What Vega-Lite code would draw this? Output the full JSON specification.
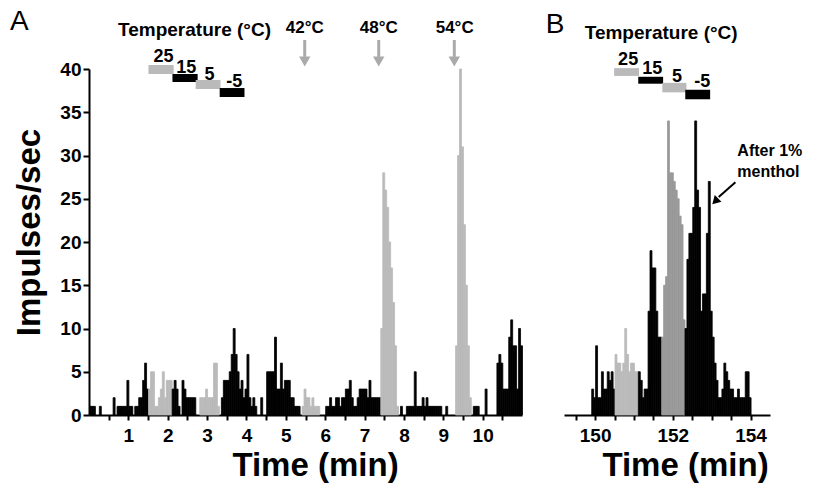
{
  "$schema": "https://vega.github.io/schema/vega-lite/v6.json",
  "padding": {"left": 9, "top": 8, "right": 5, "bottom": 5},
  "background": "white",
  "config": {
    "view": {"stroke": null},
    "font": "Liberation Sans",
    "axis": {"domainColor": "#000", "domainWidth": 2, "tickColor": "#000", "tickWidth": 2, "labelColor": "#000", "labelFont": "Liberation Sans", "labelFontSize": 19, "labelFontWeight": "bold", "titleFont": "Liberation Sans", "titleFontSize": 33, "titleFontWeight": "bold", "titleColor": "#000", "grid": false, "labelOverlap": false, "labelFlush": false}
  },
  "spacing": 42,
  "bounds": "flush",
  "resolve": {"scale": {"x": "independent", "y": "independent", "color": "independent", "stroke": "independent"}},
  "datasets": {
    "histA": [
      {"t":0.00,"v":1,"c":"k"},{"t":0.05,"v":1,"c":"k"},{"t":0.10,"v":1,"c":"k"},{"t":0.25,"v":1,"c":"k"},{"t":0.60,"v":2,"c":"k"},
      {"t":0.70,"v":1,"c":"k"},{"t":0.75,"v":1,"c":"k"},{"t":0.80,"v":1,"c":"k"},{"t":0.85,"v":1,"c":"k"},{"t":0.90,"v":1,"c":"k"},
      {"t":0.95,"v":4,"c":"k"},{"t":1.00,"v":1,"c":"k"},{"t":1.05,"v":1,"c":"k"},{"t":1.15,"v":1,"c":"k"},{"t":1.20,"v":1,"c":"k"},
      {"t":1.25,"v":2,"c":"k"},{"t":1.30,"v":2,"c":"k"},{"t":1.35,"v":4,"c":"k"},{"t":1.40,"v":6,"c":"k"},{"t":1.45,"v":3,"c":"k"},
      {"t":1.50,"v":3,"c":"g"},{"t":1.55,"v":5,"c":"g"},{"t":1.60,"v":5,"c":"g"},{"t":1.65,"v":1,"c":"g"},{"t":1.70,"v":1,"c":"g"},
      {"t":1.75,"v":2,"c":"g"},{"t":1.80,"v":3,"c":"g"},{"t":1.85,"v":5,"c":"g"},{"t":1.90,"v":2,"c":"g"},{"t":1.95,"v":4,"c":"g"},
      {"t":2.00,"v":4,"c":"g"},{"t":2.05,"v":4,"c":"g"},
      {"t":2.10,"v":3,"c":"k"},{"t":2.15,"v":4,"c":"k"},{"t":2.20,"v":3,"c":"k"},{"t":2.25,"v":1,"c":"k"},{"t":2.35,"v":4,"c":"k"},
      {"t":2.40,"v":3,"c":"k"},{"t":2.45,"v":2,"c":"k"},{"t":2.50,"v":2,"c":"k"},{"t":2.55,"v":2,"c":"k"},{"t":2.60,"v":2,"c":"k"},{"t":2.65,"v":2,"c":"k"},
      {"t":2.80,"v":2,"c":"g"},{"t":2.85,"v":2,"c":"g"},{"t":2.90,"v":2,"c":"g"},{"t":2.95,"v":3,"c":"g"},{"t":3.00,"v":2,"c":"g"},
      {"t":3.05,"v":2,"c":"g"},{"t":3.10,"v":2,"c":"g"},{"t":3.15,"v":6,"c":"g"},{"t":3.20,"v":6,"c":"g"},{"t":3.25,"v":1,"c":"g"},
      {"t":3.35,"v":2,"c":"k"},{"t":3.40,"v":4,"c":"k"},{"t":3.45,"v":4,"c":"k"},{"t":3.50,"v":4,"c":"k"},{"t":3.55,"v":5,"c":"k"},
      {"t":3.60,"v":7,"c":"k"},{"t":3.65,"v":10,"c":"k"},{"t":3.70,"v":7,"c":"k"},{"t":3.75,"v":5,"c":"k"},{"t":3.80,"v":3,"c":"k"},
      {"t":3.85,"v":4,"c":"k"},{"t":3.90,"v":2,"c":"k"},{"t":3.95,"v":3,"c":"k"},{"t":4.00,"v":7,"c":"k"},{"t":4.05,"v":2,"c":"k"},
      {"t":4.10,"v":1,"c":"k"},{"t":4.15,"v":2,"c":"k"},{"t":4.20,"v":1,"c":"k"},{"t":4.35,"v":2,"c":"k"},{"t":4.50,"v":5,"c":"k"},
      {"t":4.55,"v":5,"c":"k"},{"t":4.60,"v":5,"c":"k"},{"t":4.65,"v":5,"c":"k"},{"t":4.70,"v":9,"c":"k"},{"t":4.75,"v":3,"c":"k"},
      {"t":4.80,"v":3,"c":"k"},{"t":4.85,"v":6,"c":"k"},{"t":4.90,"v":3,"c":"k"},{"t":4.95,"v":4,"c":"k"},{"t":5.00,"v":4,"c":"k"},
      {"t":5.05,"v":4,"c":"k"},{"t":5.10,"v":2,"c":"k"},{"t":5.15,"v":2,"c":"k"},{"t":5.20,"v":1,"c":"k"},{"t":5.25,"v":1,"c":"k"},{"t":5.30,"v":1,"c":"k"},
      {"t":5.40,"v":1,"c":"g"},{"t":5.45,"v":3,"c":"g"},{"t":5.50,"v":2,"c":"g"},{"t":5.55,"v":2,"c":"g"},{"t":5.60,"v":1,"c":"g"},
      {"t":5.65,"v":2,"c":"g"},{"t":5.70,"v":1,"c":"g"},{"t":5.75,"v":1,"c":"g"},{"t":5.80,"v":1,"c":"g"},
      {"t":6.00,"v":1,"c":"k"},{"t":6.05,"v":1,"c":"k"},{"t":6.10,"v":2,"c":"k"},{"t":6.15,"v":1,"c":"k"},{"t":6.20,"v":1,"c":"k"},
      {"t":6.25,"v":2,"c":"k"},{"t":6.30,"v":2,"c":"k"},{"t":6.35,"v":1,"c":"k"},{"t":6.40,"v":2,"c":"k"},{"t":6.45,"v":2,"c":"k"},
      {"t":6.50,"v":3,"c":"k"},{"t":6.55,"v":3,"c":"k"},{"t":6.60,"v":4,"c":"k"},{"t":6.65,"v":2,"c":"k"},{"t":6.70,"v":1,"c":"k"},
      {"t":6.75,"v":1,"c":"k"},{"t":6.80,"v":2,"c":"k"},{"t":6.85,"v":3,"c":"k"},{"t":6.90,"v":3,"c":"k"},{"t":6.95,"v":3,"c":"k"},
      {"t":7.00,"v":3,"c":"k"},{"t":7.05,"v":2,"c":"k"},{"t":7.10,"v":4,"c":"k"},{"t":7.15,"v":2,"c":"k"},{"t":7.20,"v":2,"c":"k"},
      {"t":7.25,"v":2,"c":"k"},{"t":7.30,"v":2,"c":"k"},{"t":7.35,"v":2,"c":"k"},
      {"t":7.40,"v":10,"c":"g"},{"t":7.45,"v":28,"c":"g"},{"t":7.50,"v":26,"c":"g"},{"t":7.55,"v":24,"c":"g"},{"t":7.60,"v":20,"c":"g"},
      {"t":7.65,"v":17,"c":"g"},{"t":7.70,"v":13,"c":"g"},{"t":7.75,"v":8,"c":"g"},{"t":7.80,"v":1,"c":"g"},
      {"t":7.90,"v":1,"c":"k"},{"t":8.05,"v":1,"c":"k"},{"t":8.10,"v":1,"c":"k"},{"t":8.15,"v":1,"c":"k"},{"t":8.20,"v":1,"c":"k"},
      {"t":8.25,"v":5,"c":"k"},{"t":8.30,"v":1,"c":"k"},{"t":8.35,"v":1,"c":"k"},{"t":8.40,"v":1,"c":"k"},{"t":8.45,"v":2,"c":"k"},
      {"t":8.50,"v":1,"c":"k"},{"t":8.55,"v":2,"c":"k"},{"t":8.60,"v":1,"c":"k"},{"t":8.65,"v":1,"c":"k"},{"t":8.70,"v":1,"c":"k"},
      {"t":8.75,"v":1,"c":"k"},{"t":8.80,"v":1,"c":"k"},{"t":8.85,"v":1,"c":"k"},{"t":8.90,"v":1,"c":"k"},{"t":9.05,"v":1,"c":"k"},
      {"t":9.30,"v":8,"c":"g"},{"t":9.35,"v":30,"c":"g"},{"t":9.40,"v":40,"c":"g"},{"t":9.45,"v":31,"c":"g"},{"t":9.50,"v":22,"c":"g"},
      {"t":9.55,"v":15,"c":"g"},{"t":9.60,"v":8,"c":"g"},{"t":9.65,"v":2,"c":"g"},
      {"t":9.75,"v":1,"c":"k"},{"t":9.80,"v":1,"c":"k"},{"t":9.85,"v":1,"c":"k"},{"t":10.05,"v":3,"c":"k"},{"t":10.35,"v":6,"c":"k"},
      {"t":10.40,"v":7,"c":"k"},{"t":10.45,"v":6,"c":"k"},{"t":10.50,"v":3,"c":"k"},{"t":10.55,"v":3,"c":"k"},{"t":10.60,"v":3,"c":"k"},
      {"t":10.65,"v":9,"c":"k"},{"t":10.70,"v":11,"c":"k"},{"t":10.75,"v":8,"c":"k"},{"t":10.80,"v":8,"c":"k"},{"t":10.85,"v":3,"c":"k"},
      {"t":10.90,"v":10,"c":"k"},{"t":10.95,"v":8,"c":"k"}
    ],
    "histB": [
      {"t":149.90,"v":3,"c":"k"},{"t":149.95,"v":2,"c":"k"},{"t":150.00,"v":8,"c":"k"},{"t":150.05,"v":2,"c":"k"},{"t":150.10,"v":2,"c":"k"},
      {"t":150.15,"v":5,"c":"k"},{"t":150.20,"v":3,"c":"k"},{"t":150.25,"v":3,"c":"k"},{"t":150.30,"v":5,"c":"k"},{"t":150.35,"v":4,"c":"k"},
      {"t":150.40,"v":5,"c":"k"},{"t":150.45,"v":3,"c":"k"},
      {"t":150.50,"v":7,"c":"g"},{"t":150.55,"v":6,"c":"g"},{"t":150.60,"v":6,"c":"g"},{"t":150.65,"v":5,"c":"g"},{"t":150.70,"v":6,"c":"g"},
      {"t":150.75,"v":10,"c":"g"},{"t":150.80,"v":7,"c":"g"},{"t":150.85,"v":5,"c":"g"},{"t":150.90,"v":6,"c":"g"},{"t":150.95,"v":6,"c":"g"},
      {"t":151.00,"v":5,"c":"g"},{"t":151.05,"v":5,"c":"g"},
      {"t":151.10,"v":5,"c":"k"},{"t":151.15,"v":4,"c":"k"},{"t":151.20,"v":2,"c":"k"},{"t":151.25,"v":3,"c":"k"},{"t":151.30,"v":3,"c":"k"},
      {"t":151.35,"v":12,"c":"k"},{"t":151.40,"v":19,"c":"k"},{"t":151.45,"v":17,"c":"k"},{"t":151.50,"v":17,"c":"k"},{"t":151.55,"v":12,"c":"k"},
      {"t":151.60,"v":9,"c":"k"},{"t":151.65,"v":9,"c":"k"},
      {"t":151.70,"v":9,"c":"m"},{"t":151.75,"v":15,"c":"m"},{"t":151.80,"v":16,"c":"m"},{"t":151.85,"v":34,"c":"m"},{"t":151.90,"v":28,"c":"m"},
      {"t":151.95,"v":28,"c":"m"},{"t":152.00,"v":27,"c":"m"},{"t":152.05,"v":26,"c":"m"},{"t":152.10,"v":25,"c":"m"},{"t":152.15,"v":23,"c":"m"},
      {"t":152.20,"v":22,"c":"m"},{"t":152.25,"v":11,"c":"m"},
      {"t":152.30,"v":10,"c":"k"},{"t":152.35,"v":18,"c":"k"},{"t":152.40,"v":21,"c":"k"},{"t":152.45,"v":21,"c":"k"},{"t":152.50,"v":24,"c":"k"},
      {"t":152.55,"v":34,"c":"k"},{"t":152.60,"v":26,"c":"k"},{"t":152.65,"v":24,"c":"k"},{"t":152.70,"v":12,"c":"k"},{"t":152.75,"v":14,"c":"k"},
      {"t":152.80,"v":14,"c":"k"},{"t":152.85,"v":21,"c":"k"},{"t":152.90,"v":27,"c":"k"},{"t":152.95,"v":12,"c":"k"},{"t":153.00,"v":9,"c":"k"},
      {"t":153.05,"v":6,"c":"k"},{"t":153.10,"v":4,"c":"k"},{"t":153.15,"v":2,"c":"k"},{"t":153.20,"v":2,"c":"k"},{"t":153.25,"v":3,"c":"k"},
      {"t":153.30,"v":6,"c":"k"},{"t":153.35,"v":5,"c":"k"},{"t":153.40,"v":4,"c":"k"},{"t":153.45,"v":3,"c":"k"},{"t":153.50,"v":3,"c":"k"},
      {"t":153.55,"v":2,"c":"k"},{"t":153.60,"v":2,"c":"k"},{"t":153.65,"v":3,"c":"k"},{"t":153.70,"v":2,"c":"k"},{"t":153.75,"v":2,"c":"k"},
      {"t":153.80,"v":2,"c":"k"},{"t":153.85,"v":5,"c":"k"},{"t":153.90,"v":5,"c":"k"},{"t":153.95,"v":2,"c":"k"}
    ]
  },
  "hconcat": [
    {
      "width": 433,
      "height": 346,
      "layer": [
        {
          "data": {"name": "histA"},
          "mark": {"type": "bar", "binSpacing": 0, "strokeWidth": 0.8},
          "encoding": {
            "x": {"field": "t", "type": "quantitative", "bin": {"binned": true, "step": 0.05},
                  "scale": {"domain": [0, 11], "nice": false, "zero": false},
                  "axis": {"title": "Time (min)", "values": [0.5,1,1.5,2,2.5,3,3.5,4,4.5,5,5.5,6,6.5,7,7.5,8,8.5,9,9.5,10,10.5],
                           "labelExpr": "datum.value % 1 === 0 ? format(datum.value, 'd') : ''", "tickSize": 5, "labelPadding": 6,
                           "titleX": 226, "titleY": 60, "titleBaseline": "alphabetic", "titleAlign": "center"}},
            "y": {"field": "v", "type": "quantitative",
                  "scale": {"domain": [0, 40], "nice": false},
                  "axis": {"title": "Impulses/sec", "values": [0,2.5,5,7.5,10,12.5,15,17.5,20,22.5,25,27.5,30,32.5,35,37.5,40],
                           "labelExpr": "datum.value % 5 === 0 ? format(datum.value, 'd') : ''",
                           "tickSize": {"condition": {"test": "datum.value % 5 === 0", "value": 6}, "value": 3},
                           "labelPadding": 2, "titleX": -60, "titleY": 163, "titleAngle": 270, "titleBaseline": "middle", "titleAlign": "center"}},
            "color": {"field": "c", "type": "nominal", "scale": {"domain": ["k", "g", "m"], "range": ["#000000", "#bababa", "#999999"]}, "legend": null},
            "stroke": {"field": "c", "type": "nominal", "scale": {"domain": ["k", "g", "m"], "range": ["#000000", "#bababa", "#999999"]}, "legend": null}
          }
        },
        {
          "data": {"values": [
            {"t1": 1.51, "t2": 2.15, "v1": 39.42, "v2": 40.46, "c": "g"},
            {"t1": 2.12, "t2": 2.76, "v1": 38.50, "v2": 39.42, "c": "k"},
            {"t1": 2.71, "t2": 3.34, "v1": 37.69, "v2": 38.73, "c": "g"},
            {"t1": 3.32, "t2": 3.95, "v1": 36.76, "v2": 37.80, "c": "k"}
          ]},
          "mark": {"type": "rect"},
          "encoding": {
            "x": {"field": "t1", "type": "quantitative"},
            "x2": {"field": "t2"},
            "y": {"field": "v1", "type": "quantitative"},
            "y2": {"field": "v2"},
            "color": {"field": "c", "type": "nominal", "legend": null}
          }
        },
        {
          "data": {"values": [
            {"t": 1.89, "v": 41.4, "txt": "25"},
            {"t": 2.47, "v": 40.1, "txt": "15"},
            {"t": 3.06, "v": 39.3, "txt": "5"},
            {"t": 3.69, "v": 38.5, "txt": "-5"}
          ]},
          "mark": {"type": "text", "font": "Liberation Sans", "fontSize": 18, "fontWeight": "bold", "align": "center", "baseline": "middle", "color": "#000"},
          "encoding": {"x": {"field": "t", "type": "quantitative"}, "y": {"field": "v", "type": "quantitative"}, "text": {"field": "txt"}}
        },
        {
          "data": {"values": [{"t": 2.68, "v": 44.5, "txt": "Temperature (°C)"}]},
          "mark": {"type": "text", "font": "Liberation Sans", "fontSize": 19, "fontWeight": "bold", "align": "center", "baseline": "middle", "color": "#000"},
          "encoding": {"x": {"field": "t", "type": "quantitative"}, "y": {"field": "v", "type": "quantitative"}, "text": {"field": "txt"}}
        },
        {
          "data": {"values": [
            {"t": 5.48, "v": 44.7, "txt": "42°C"},
            {"t": 7.36, "v": 44.7, "txt": "48°C"},
            {"t": 9.29, "v": 44.7, "txt": "54°C"}
          ]},
          "mark": {"type": "text", "font": "Liberation Sans", "fontSize": 17, "fontWeight": "bold", "align": "center", "baseline": "middle", "color": "#000"},
          "encoding": {"x": {"field": "t", "type": "quantitative"}, "y": {"field": "v", "type": "quantitative"}, "text": {"field": "txt"}}
        },
        {
          "data": {"values": [{"t": -1.77, "v": 45.4, "txt": "A"}]},
          "mark": {"type": "text", "font": "Liberation Sans", "fontSize": 28, "align": "center", "baseline": "middle", "color": "#000"},
          "encoding": {"x": {"field": "t", "type": "quantitative"}, "y": {"field": "v", "type": "quantitative"}, "text": {"field": "txt"}}
        },
        {
          "data": {"values": [
            {"t": 5.48, "v1": 41.4, "v2": 43.35},
            {"t": 7.36, "v1": 41.4, "v2": 43.35},
            {"t": 9.28, "v1": 41.4, "v2": 43.35}
          ]},
          "mark": {"type": "rule", "strokeWidth": 3, "color": "#aaaaaa"},
          "encoding": {"x": {"field": "t", "type": "quantitative"}, "y": {"field": "v1", "type": "quantitative"}, "y2": {"field": "v2"}}
        },
        {
          "data": {"values": [
            {"t": 5.48, "v": 40.87},
            {"t": 7.36, "v": 40.87},
            {"t": 9.28, "v": 40.87}
          ]},
          "mark": {"type": "point", "shape": "triangle-down", "filled": true, "size": 130, "color": "#aaaaaa", "opacity": 1},
          "encoding": {"x": {"field": "t", "type": "quantitative"}, "y": {"field": "v", "type": "quantitative"}}
        }
      ]
    },
    {
      "width": 206,
      "height": 346,
      "layer": [
        {
          "data": {"name": "histB"},
          "mark": {"type": "bar", "binSpacing": 0, "strokeWidth": 0.8},
          "encoding": {
            "x": {"field": "t", "type": "quantitative", "bin": {"binned": true, "step": 0.05},
                  "scale": {"domain": [149.2, 154.5], "nice": false, "zero": false},
                  "axis": {"title": "Time (min)", "values": [149.5,150,150.5,151,151.5,152,152.5,153,153.5,154],
                           "labelExpr": "datum.value % 2 === 0 ? format(datum.value, 'd') : ''", "tickSize": 5, "labelPadding": 6,
                           "titleX": 121, "titleY": 60, "titleBaseline": "alphabetic", "titleAlign": "center"}},
            "y": {"field": "v", "type": "quantitative", "scale": {"domain": [0, 40], "nice": false}, "axis": null},
            "color": {"field": "c", "type": "nominal", "scale": {"domain": ["k", "g", "m"], "range": ["#000000", "#bababa", "#999999"]}, "legend": null},
            "stroke": {"field": "c", "type": "nominal", "scale": {"domain": ["k", "g", "m"], "range": ["#000000", "#bababa", "#999999"]}, "legend": null}
          }
        },
        {
          "data": {"values": [
            {"t1": 150.49, "t2": 151.13, "v1": 39.2, "v2": 40.1, "c": "g"},
            {"t1": 151.11, "t2": 151.75, "v1": 38.3, "v2": 39.1, "c": "k"},
            {"t1": 151.73, "t2": 152.35, "v1": 37.3, "v2": 38.4, "c": "g"},
            {"t1": 152.32, "t2": 152.96, "v1": 36.5, "v2": 37.6, "c": "k"}
          ]},
          "mark": {"type": "rect"},
          "encoding": {
            "x": {"field": "t1", "type": "quantitative"},
            "x2": {"field": "t2"},
            "y": {"field": "v1", "type": "quantitative"},
            "y2": {"field": "v2"},
            "color": {"field": "c", "type": "nominal", "legend": null}
          }
        },
        {
          "data": {"values": [
            {"t": 150.85, "v": 41.0, "txt": "25"},
            {"t": 151.47, "v": 40.0, "txt": "15"},
            {"t": 152.11, "v": 39.1, "txt": "5"},
            {"t": 152.76, "v": 38.5, "txt": "-5"}
          ]},
          "mark": {"type": "text", "font": "Liberation Sans", "fontSize": 18, "fontWeight": "bold", "align": "center", "baseline": "middle", "color": "#000"},
          "encoding": {"x": {"field": "t", "type": "quantitative"}, "y": {"field": "v", "type": "quantitative"}, "text": {"field": "txt"}}
        },
        {
          "data": {"values": [{"t": 151.70, "v": 44.2, "txt": "Temperature (°C)"}]},
          "mark": {"type": "text", "font": "Liberation Sans", "fontSize": 19, "fontWeight": "bold", "align": "center", "baseline": "middle", "color": "#000"},
          "encoding": {"x": {"field": "t", "type": "quantitative"}, "y": {"field": "v", "type": "quantitative"}, "text": {"field": "txt"}}
        },
        {
          "data": {"values": [{"t": 148.97, "v": 45.1, "txt": "B"}]},
          "mark": {"type": "text", "font": "Liberation Sans", "fontSize": 28, "align": "center", "baseline": "middle", "color": "#000"},
          "encoding": {"x": {"field": "t", "type": "quantitative"}, "y": {"field": "v", "type": "quantitative"}, "text": {"field": "txt"}}
        },
        {
          "data": {"values": [
            {"t": 153.66, "v": 30.5, "txt": "After 1%"},
            {"t": 153.66, "v": 28.1, "txt": "menthol"}
          ]},
          "mark": {"type": "text", "font": "Liberation Sans", "fontSize": 16, "fontWeight": "bold", "align": "left", "baseline": "middle", "color": "#000"},
          "encoding": {"x": {"field": "t", "type": "quantitative"}, "y": {"field": "v", "type": "quantitative"}, "text": {"field": "txt"}}
        },
        {
          "data": {"values": [{"t1": 153.61, "v1": 26.9, "t2": 153.18, "v2": 25.2}]},
          "mark": {"type": "rule", "strokeWidth": 2, "color": "#000"},
          "encoding": {"x": {"field": "t1", "type": "quantitative"}, "y": {"field": "v1", "type": "quantitative"}, "x2": {"field": "t2"}, "y2": {"field": "v2"}}
        },
        {
          "data": {"values": [{"t": 153.09, "v": 24.7}]},
          "mark": {"type": "point", "shape": "triangle-up", "filled": true, "size": 90, "angle": 225, "color": "#000", "opacity": 1},
          "encoding": {"x": {"field": "t", "type": "quantitative"}, "y": {"field": "v", "type": "quantitative"}}
        }
      ]
    }
  ]
}
